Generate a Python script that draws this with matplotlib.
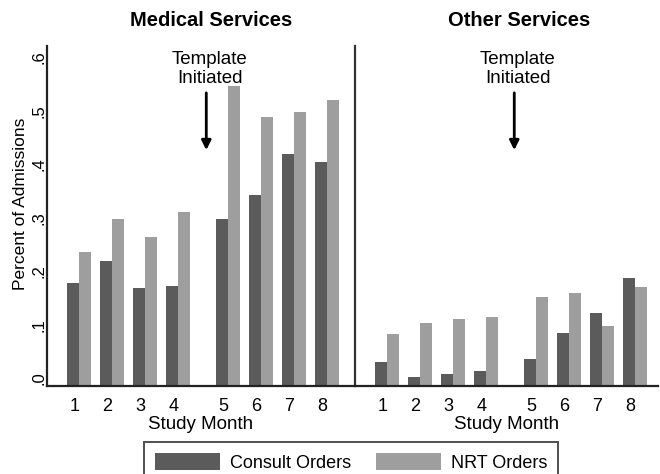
import numpy as np
import matplotlib
matplotlib.use("Agg")
import matplotlib.pyplot as plt
from matplotlib.transforms import ScaledTranslation

plt.rcParams['font.family'] = ['Liberation Sans', 'DejaVu Sans']

# Share of admissions with each order type, by study month
months = ["1", "2", "3", "4", "5", "6", "7", "8"]
panel_titles = ["Medical Services", "Other Services"]
series_names = ["Consult Orders", "NRT Orders"]

medical_consult = [0.192, 0.233, 0.182, 0.186, 0.311, 0.356, 0.433, 0.418]
medical_nrt = [0.250, 0.311, 0.278, 0.324, 0.560, 0.502, 0.511, 0.534]
other_consult = [0.044, 0.016, 0.021, 0.027, 0.050, 0.098, 0.136, 0.201]
other_nrt = [0.096, 0.117, 0.124, 0.128, 0.165, 0.173, 0.111, 0.184]

y_ticks = [0.0, 0.1, 0.2, 0.3, 0.4, 0.5, 0.6]
y_tick_labels = [".0", ".1", ".2", ".3", ".4", ".5", ".6"]
annotation_text = "Template\nInitiated"

DARK = "#5b5b5b"
LIGHT = "#9e9e9e"
LINE = "#222222"

fig = plt.figure(figsize=(6.6, 4.74), dpi=100)
W, H = 660, 474
bottom_px, top_px = 385.5, 46
ax_b = 1 - bottom_px / H
ax_h = (bottom_px - top_px) / H
ax_med = fig.add_axes([47 / W, ax_b, 308 / W, ax_h])
ax_oth = fig.add_axes([355 / W, ax_b, 303 / W, ax_h])

# months 1-4 precede the template, 5-8 follow it after a gap
idx = np.arange(len(months))
pos = idx + np.where(idx >= 4, 0.5, 0.0)
bw = 0.363

panels = [
    (ax_med, medical_consult, medical_nrt, panel_titles[0], 8.35, 0.532),
    (ax_oth, other_consult, other_nrt, panel_titles[1], 8.20, 0.541),
]

for ax, cons, nrt, title, xmax, tx in panels:
    ax.bar(pos - bw / 2, cons, width=bw, color=DARK, label=series_names[0])
    ax.bar(pos + bw / 2, nrt, width=bw, color=LIGHT, label=series_names[1])
    ax.set_xlim(-0.97, xmax)
    ax.set_ylim(0, (bottom_px - top_px) / 535)
    ax.set_xticks(pos)
    ax.set_xticklabels(months, fontsize=13)
    ax.tick_params(axis='x', length=0, pad=9)
    for lab in ax.get_xticklabels():
        lab.set_transform(lab.get_transform() +
                          ScaledTranslation(-4.5 / 100, 0, fig.dpi_scale_trans))
    ax.set_xlabel("Study Month", fontsize=13.5, labelpad=1)
    for s in ("top", "right"):
        ax.spines[s].set_visible(False)
    ax.spines["bottom"].set_color(LINE)
    ax.spines["bottom"].set_linewidth(1.6)
    ax.spines["left"].set_color(LINE if ax is ax_med else "#333333")
    ax.spines["left"].set_linewidth(1.6)
    ax.text(tx, 1.074, title, transform=ax.transAxes, ha='center', va='center',
            fontsize=14.5, fontweight='bold')
    ax.annotate("", xy=(3.85, 0.44), xytext=(3.85, 0.547),
                arrowprops=dict(arrowstyle='-|>', color='black', lw=2,
                                mutation_scale=14, shrinkA=0, shrinkB=0))
    ax.text(3.96, 0.592, annotation_text, ha='center', va='center',
            fontsize=13.5, linespacing=1.15)

ax_med.set_yticks(y_ticks)
ax_med.set_yticklabels(y_tick_labels, rotation=90, va='center', fontsize=12)
ax_med.tick_params(axis='y', length=0, pad=0.5)
for lab in ax_med.get_yticklabels():
    lab.set_transform(lab.get_transform() +
                      ScaledTranslation(0, 7 / 100, fig.dpi_scale_trans))
ax_med.set_ylabel("Percent of Admissions", fontsize=12.5)
ax_med.yaxis.set_label_coords(-0.062, 0.535)

ax_oth.set_yticks([])

# legend box runs past the lower edge of the figure
handles, labels = ax_med.get_legend_handles_labels()
leg = fig.legend(handles, labels, ncol=2, loc='upper left',
                 bbox_to_anchor=(144 / W, 1 - 442 / H), fontsize=13,
                 frameon=True, fancybox=False, edgecolor=LINE,
                 handlelength=3.6, handleheight=1.1, handletextpad=0.55,
                 columnspacing=1.4, borderpad=0.6, borderaxespad=0)
leg.get_frame().set_linewidth(1.4)

fig.savefig("out.png", dpi=100)
